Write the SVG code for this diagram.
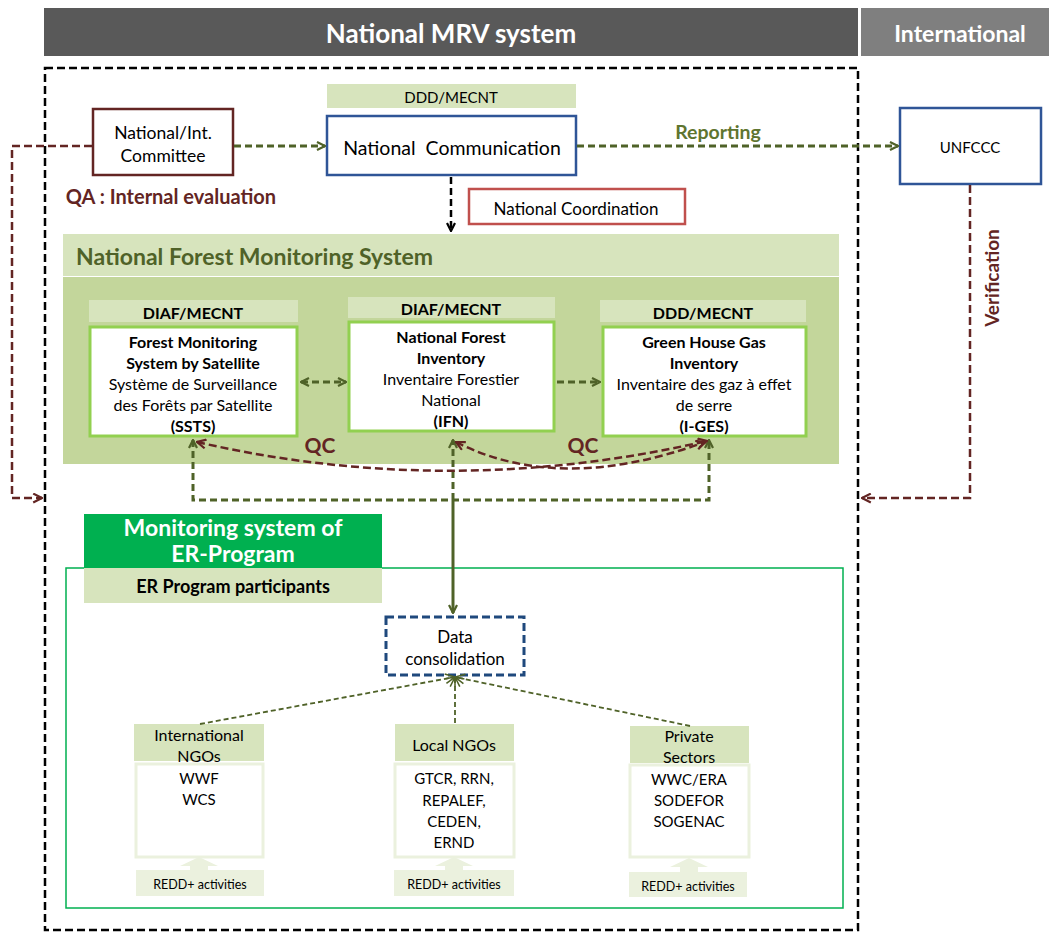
<svg xmlns="http://www.w3.org/2000/svg" width="1049" height="933" viewBox="0 0 1049 933">
<style>
text{font-family:Lato,"Liberation Sans",sans-serif;fill:#000;text-anchor:middle;dominant-baseline:central}
.hdr{fill:#fff;font-weight:bold}
.b{font-weight:bold}
.lbl{fill:#d7e4bd}
.wbox{fill:#fff;stroke:#92d050;stroke-width:3}
.lbox{fill:#fff;stroke:#ebf1de;stroke-width:3}
.ga{fill:none;stroke:#4f6228;stroke-width:3;stroke-dasharray:7,4}
.ra{fill:none;stroke:#632523;stroke-width:2.5;stroke-dasharray:8,4}
.red{fill:#632523;font-weight:bold}
.t15{font-size:15px}
.t16{font-size:16px}
</style>
<defs>
<marker id="gh" viewBox="0 0 10 10" refX="9" refY="5" markerWidth="10" markerHeight="10" markerUnits="userSpaceOnUse" orient="auto-start-reverse"><path d="M1,1 L9,5 L1,9" fill="none" stroke="#4f6228" stroke-width="2.2"/></marker>
<marker id="rh" viewBox="0 0 10 10" refX="9" refY="5" markerWidth="11" markerHeight="11" markerUnits="userSpaceOnUse" orient="auto-start-reverse"><path d="M1,1 L9,5 L1,9" fill="none" stroke="#632523" stroke-width="2"/></marker>
<marker id="kh" viewBox="0 0 10 10" refX="9" refY="5" markerWidth="10" markerHeight="10" markerUnits="userSpaceOnUse" orient="auto"><path d="M1,1 L9,5 L1,9" fill="none" stroke="#000" stroke-width="2.2"/></marker>
<marker id="sh" viewBox="0 0 10 10" refX="9" refY="5" markerWidth="12" markerHeight="12" markerUnits="userSpaceOnUse" orient="auto"><path d="M1,1 L9,5 L1,9 M1,5 L9,5" fill="none" stroke="#4f6228" stroke-width="1.3"/></marker>
</defs>

<g id="header">
<rect x="44" y="8" width="814" height="48" fill="#595959"/>
<text x="451" y="33" class="hdr" font-size="26">National MRV system</text>
<rect x="861" y="8" width="188" height="48" fill="#7f7f7f"/>
<text x="960" y="33" class="hdr" font-size="23">International</text>
</g>

<g id="national-frame">
<rect x="45" y="68" width="813" height="862" fill="none" stroke="#000" stroke-width="2.5" stroke-dasharray="8,4"/>
</g>

<g id="nfms">
<rect x="63" y="234" width="776" height="42" fill="#d7e4bd"/>
<rect x="63" y="277" width="776" height="187" fill="#c3d69b"/>
<text x="76" y="256" font-size="23" class="b" style="text-anchor:start;fill:#4f6228">National Forest Monitoring System</text>
</g>

<g id="er-program">
<rect x="66" y="568" width="777" height="340" fill="none" stroke="#00b050" stroke-width="1.5"/>
<rect x="84" y="514" width="298" height="54" fill="#00b050"/>
<text x="233" y="527" class="hdr" font-size="23">Monitoring system of</text>
<text x="233" y="553" class="hdr" font-size="23">ER-Program</text>
<rect x="84" y="568" width="298" height="35" class="lbl"/>
<text x="233" y="586" class="b" font-size="18">ER Program participants</text>
</g>

<g id="committee">
<rect x="93" y="109" width="140" height="66" fill="#fff" stroke="#632523" stroke-width="2.5"/>
<text x="163" y="132" font-size="17.5">National/Int.</text>
<text x="163" y="155" font-size="17.5">Committee</text>
</g>
<text x="171" y="196" class="red" font-size="20">QA : Internal evaluation</text>

<g id="national-communication">
<rect x="327" y="84" width="249" height="24" class="lbl"/>
<text x="451" y="97" font-size="15">DDD/MECNT</text>
<rect x="327" y="116" width="249" height="59" fill="#fff" stroke="#2f5597" stroke-width="2.5"/>
<text x="452" y="147" font-size="19.5" style="white-space:pre">National  Communication</text>
</g>

<g id="unfccc">
<rect x="900" y="108" width="141" height="76" fill="#fff" stroke="#2f5597" stroke-width="2.5"/>
<text x="970" y="147" class="t15">UNFCCC</text>
</g>

<g id="national-coordination">
<rect x="469" y="189" width="216" height="35" fill="#fff" stroke="#c0504d" stroke-width="2.5"/>
<text x="576" y="208" font-size="17">National Coordination</text>
</g>

<g id="ssts">
<rect x="89" y="300" width="209" height="22" class="lbl"/>
<text x="193" y="312" class="b t16">DIAF/MECNT</text>
<rect x="90" y="327" width="207" height="109" class="wbox"/>
<text x="193" y="341" class="b t16">Forest Monitoring</text>
<text x="193" y="362" class="b t16">System by Satellite</text>
<text x="193" y="383" class="t16">Système de Surveillance</text>
<text x="193" y="404" class="t16">des Forêts par Satellite</text>
<text x="193" y="425" class="b t16">(SSTS)</text>
</g>

<g id="ifn">
<rect x="348" y="297" width="207" height="21" class="lbl"/>
<text x="451" y="308" class="b t16">DIAF/MECNT</text>
<rect x="349" y="322" width="205" height="109" class="wbox"/>
<text x="451" y="336" class="b t16">National Forest</text>
<text x="451" y="357" class="b t16">Inventory</text>
<text x="451" y="378" class="t16">Inventaire Forestier</text>
<text x="451" y="399" class="t16">National</text>
<text x="451" y="420" class="b t16">(IFN)</text>
</g>

<g id="iges">
<rect x="600" y="300" width="206" height="22" class="lbl"/>
<text x="703" y="312" class="b t16">DDD/MECNT</text>
<rect x="603" y="327" width="203" height="109" class="wbox"/>
<text x="704" y="341" class="b t16">Green House Gas</text>
<text x="704" y="362" class="b t16">Inventory</text>
<text x="704" y="383" class="t16">Inventaire des gaz à effet</text>
<text x="704" y="404" class="t16">de serre</text>
<text x="704" y="425" class="b t16">(I-GES)</text>
</g>

<g id="data-consolidation">
<rect x="386" y="617" width="138" height="58" fill="#fff" stroke="#1f497d" stroke-width="3" stroke-dasharray="8,4"/>
<text x="455" y="636" font-size="17">Data</text>
<text x="455" y="658" font-size="17">consolidation</text>
</g>

<g id="international-ngos">
<rect x="134" y="724" width="130" height="37" class="lbl"/>
<text x="199" y="734" class="t16">International</text>
<text x="199" y="755" class="t16">NGOs</text>
<rect x="136" y="764" width="127" height="93" class="lbox"/>
<text x="199" y="778" class="t15">WWF</text>
<text x="199" y="799" class="t15">WCS</text>
<path d="M190,870 V866 H180 L199,857 L218,866 H208 V870 Z" fill="#ebf1de"/>
<rect x="136" y="870" width="128" height="26" fill="#ebf1de"/>
<text x="200" y="884" font-size="12.5">REDD+ activities</text>
</g>

<g id="local-ngos">
<rect x="395" y="724" width="119" height="37" class="lbl"/>
<text x="454" y="744" class="t16">Local NGOs</text>
<rect x="395" y="764" width="119" height="93" class="lbox"/>
<text x="454" y="778" class="t15">GTCR, RRN,</text>
<text x="454" y="800" class="t15">REPALEF,</text>
<text x="454" y="821" class="t15">CEDEN,</text>
<text x="454" y="842" class="t15">ERND</text>
<path d="M445,870 V866 H435 L454,857 L473,866 H463 V870 Z" fill="#ebf1de"/>
<rect x="394" y="870" width="120" height="26" fill="#ebf1de"/>
<text x="454" y="884" font-size="12.5">REDD+ activities</text>
</g>

<g id="private-sectors">
<rect x="630" y="726" width="119" height="37" class="lbl"/>
<text x="689" y="735" class="t16">Private</text>
<text x="689" y="756" class="t16">Sectors</text>
<rect x="630" y="765" width="119" height="92" class="lbox"/>
<text x="689" y="779" class="t15">WWC/ERA</text>
<text x="689" y="800" class="t15">SODEFOR</text>
<text x="689" y="821" class="t15">SOGENAC</text>
<path d="M680,872 V867 H670 L689,858 L708,867 H698 V872 Z" fill="#ebf1de"/>
<rect x="629" y="872" width="118" height="25" fill="#ebf1de"/>
<text x="688" y="886" font-size="12.5">REDD+ activities</text>
</g>

<g id="connectors">
<path class="ga" d="M234,146 H325" marker-end="url(#gh)"/>
<path class="ga" d="M577,146 H898" marker-end="url(#gh)"/>
<text x="718" y="131" class="b" font-size="19.5" style="fill:#5f7530">Reporting</text>
<path d="M451,177 V231" fill="none" stroke="#000" stroke-width="2.5" stroke-dasharray="7,4" marker-end="url(#kh)"/>
<path class="ra" d="M92,146 H12 V498 H42" marker-end="url(#rh)"/>
<path class="ra" d="M970,185 V498 H862" marker-end="url(#rh)"/>
<text transform="translate(991,278) rotate(-90)" font-family="Liberation Sans,Arial,sans-serif" font-size="19" class="red">Verification</text>
<path class="ga" d="M301,382 H346" marker-start="url(#gh)" marker-end="url(#gh)"/>
<path class="ga" d="M557,382 H600" marker-end="url(#gh)"/>
<path class="ga" d="M193,440 V500 H709 V440" marker-start="url(#gh)" marker-end="url(#gh)"/>
<path class="ga" d="M453,500 V440" marker-end="url(#gh)"/>
<path d="M453,500 V613" fill="none" stroke="#4f6228" stroke-width="3" marker-end="url(#gh)"/>
<path class="ra" d="M197,442 Q450,500 707,441" marker-start="url(#rh)" marker-end="url(#rh)"/>
<path class="ra" d="M456,442 Q560,495 705,442" marker-start="url(#rh)" marker-end="url(#rh)"/>
<text x="320" y="444" class="red" font-size="21">QC</text>
<text x="583" y="444" class="red" font-size="21">QC</text>
<path d="M200,724 L455,677" fill="none" stroke="#4f6228" stroke-width="1.8" stroke-dasharray="5,3" marker-end="url(#sh)"/>
<path d="M455,723 V677" fill="none" stroke="#4f6228" stroke-width="1.8" stroke-dasharray="5,3" marker-end="url(#sh)"/>
<path d="M690,726 L455,677" fill="none" stroke="#4f6228" stroke-width="1.8" stroke-dasharray="5,3" marker-end="url(#sh)"/>
</g>
</svg>
